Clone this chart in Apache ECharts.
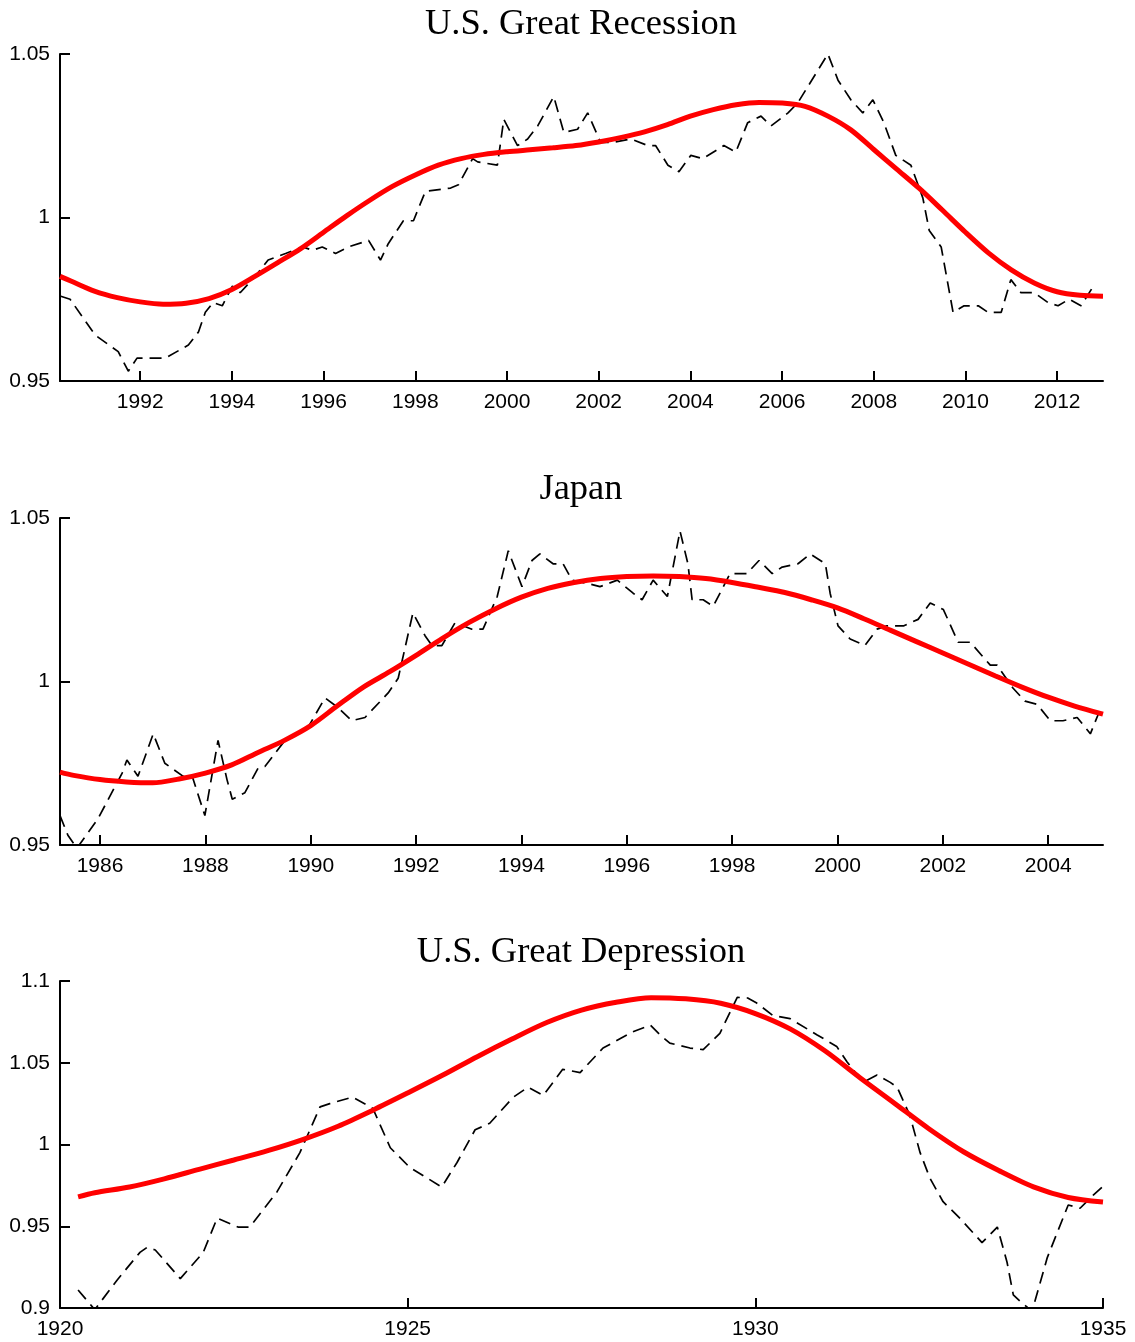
<!DOCTYPE html>
<html>
<head>
<meta charset="utf-8">
<script src="https://cdn.jsdelivr.net/npm/echarts@6/dist/echarts.min.js"></script>
<style>
  html, body { margin: 0; padding: 0; background: #fff; }
  #chart { width: 1135px; height: 1342px; }
</style>
</head>
<body>
<div id="chart"></div>
<script>

const titles = ['U.S. Great Recession', 'Japan', 'U.S. Great Depression'];

// [year, value]
const recessionActual = [
  [1990.25, 0.976], [1990.47, 0.975], [1991.02, 0.964], [1991.52, 0.959], [1991.74, 0.953],
  [1991.93, 0.957], [1992.26, 0.957], [1992.55, 0.957], [1993.05, 0.961], [1993.27, 0.965],
  [1993.42, 0.971], [1993.59, 0.974], [1993.79, 0.973], [1994.01, 0.979], [1994.18, 0.977],
  [1994.51, 0.982], [1994.79, 0.987], [1995.17, 0.989], [1995.54, 0.991], [1995.76, 0.990],
  [1995.97, 0.991], [1996.26, 0.989], [1996.54, 0.991], [1996.98, 0.993], [1997.24, 0.987],
  [1997.41, 0.992], [1997.74, 0.999], [1997.96, 0.999], [1998.22, 1.008], [1998.77, 1.009],
  [1998.94, 1.010], [1999.25, 1.018], [1999.36, 1.017], [1999.79, 1.016], [1999.93, 1.030],
  [2000.23, 1.022], [2000.45, 1.024], [2000.67, 1.028], [2001.02, 1.037], [2001.24, 1.026],
  [2001.54, 1.027], [2001.76, 1.032], [2002.04, 1.023], [2002.33, 1.023], [2002.70, 1.024],
  [2003.07, 1.022], [2003.24, 1.022], [2003.51, 1.016], [2003.75, 1.014], [2004.01, 1.019],
  [2004.27, 1.018], [2004.73, 1.022], [2004.99, 1.020], [2005.25, 1.029], [2005.54, 1.031],
  [2005.76, 1.028], [2006.13, 1.032], [2006.34, 1.035], [2007.00, 1.050], [2007.22, 1.042],
  [2007.50, 1.036], [2007.76, 1.032], [2007.98, 1.036], [2008.22, 1.029], [2008.48, 1.019],
  [2008.81, 1.016], [2009.07, 1.006], [2009.21, 0.996], [2009.47, 0.991], [2009.73, 0.971],
  [2009.97, 0.973], [2010.28, 0.973], [2010.49, 0.971], [2010.78, 0.971], [2010.99, 0.981],
  [2011.21, 0.977], [2011.50, 0.977], [2011.80, 0.974], [2012.02, 0.973], [2012.26, 0.975],
  [2012.52, 0.973], [2012.79, 0.979]
];

const recessionTrend = [
  [1990.25, 0.982], [1990.5, 0.9805], [1991, 0.9775], [1991.5, 0.9755], [1992, 0.9742],
  [1992.5, 0.9735], [1993, 0.9738], [1993.5, 0.9752], [1994, 0.978], [1994.5, 0.982],
  [1995, 0.9862], [1995.5, 0.9905], [1996, 0.9955], [1996.5, 1.0005], [1997, 1.0052],
  [1997.5, 1.0095], [1998, 1.013], [1998.5, 1.016], [1999, 1.018], [1999.5, 1.0193],
  [2000, 1.0201], [2000.5, 1.0207], [2001, 1.0213], [2001.5, 1.022], [2002, 1.0231],
  [2002.5, 1.0245], [2003, 1.0262], [2003.5, 1.0284], [2004, 1.031], [2004.5, 1.033],
  [2005, 1.0345], [2005.5, 1.0352], [2006, 1.035], [2006.5, 1.034], [2007, 1.031],
  [2007.5, 1.0268], [2008, 1.0208], [2008.5, 1.0148], [2009, 1.0088], [2009.5, 1.0022],
  [2010, 0.9955], [2010.5, 0.9892], [2011, 0.984], [2011.5, 0.98], [2012, 0.9773],
  [2012.5, 0.9762], [2013, 0.9759]
];

const japanActual = [
  [1985.24, 0.959], [1985.39, 0.953], [1985.56, 0.949], [1985.96, 0.958], [1986.42, 0.972],
  [1986.51, 0.976], [1986.72, 0.971], [1987.01, 0.984], [1987.23, 0.975], [1987.58, 0.971],
  [1987.75, 0.971], [1987.99, 0.959], [1988.24, 0.982], [1988.41, 0.970], [1988.51, 0.964],
  [1988.75, 0.966], [1989.00, 0.9735], [1989.13, 0.974], [1989.51, 0.982], [1989.95, 0.986],
  [1990.27, 0.995], [1990.52, 0.992], [1990.78, 0.988], [1991.03, 0.989], [1991.47, 0.9965],
  [1991.66, 1.001], [1991.94, 1.021], [1992.17, 1.014], [1992.30, 1.011], [1992.49, 1.011],
  [1992.74, 1.018], [1993.06, 1.016], [1993.27, 1.016], [1993.54, 1.026], [1993.75, 1.040],
  [1994.01, 1.029], [1994.20, 1.037], [1994.35, 1.039], [1994.60, 1.036], [1994.79, 1.036],
  [1994.96, 1.031], [1995.25, 1.030], [1995.49, 1.029], [1995.82, 1.031], [1996.12, 1.027],
  [1996.29, 1.025], [1996.50, 1.031], [1996.77, 1.026], [1997.01, 1.046], [1997.16, 1.036],
  [1997.24, 1.025], [1997.45, 1.025], [1997.64, 1.023], [1997.96, 1.033], [1998.28, 1.033],
  [1998.51, 1.037], [1998.76, 1.033], [1998.95, 1.035], [1999.25, 1.036], [1999.48, 1.039],
  [1999.77, 1.036], [1999.86, 1.027], [2000.01, 1.017], [2000.24, 1.013], [2000.52, 1.011],
  [2000.75, 1.016], [2000.94, 1.017], [2001.25, 1.017], [2001.53, 1.019], [2001.76, 1.024],
  [2002.01, 1.022], [2002.29, 1.012], [2002.52, 1.012], [2002.90, 1.005], [2003.03, 1.005],
  [2003.33, 0.998], [2003.56, 0.994], [2003.79, 0.993], [2004.04, 0.988], [2004.28, 0.988],
  [2004.55, 0.989], [2004.80, 0.984], [2004.95, 0.990]
];

const japanTrend = [
  [1985.24, 0.9723], [1985.5, 0.9713], [1986, 0.970], [1986.5, 0.9693], [1987, 0.969],
  [1987.5, 0.9702], [1988, 0.972], [1988.5, 0.9745], [1989, 0.9783], [1989.5, 0.982],
  [1990, 0.9865], [1990.5, 0.9925], [1991, 0.9983], [1991.5, 1.003], [1992, 1.008],
  [1992.5, 1.0132], [1993, 1.018], [1993.5, 1.0222], [1994, 1.0258], [1994.5, 1.0285],
  [1995, 1.0303], [1995.5, 1.0315], [1996, 1.0321], [1996.5, 1.0323], [1997, 1.0321],
  [1997.5, 1.0315], [1998, 1.0303], [1998.5, 1.0288], [1999, 1.0272], [1999.5, 1.025],
  [2000, 1.0225], [2000.5, 1.0192], [2001, 1.0157], [2001.5, 1.0122], [2002, 1.0087],
  [2002.5, 1.0052], [2003, 1.0017], [2003.5, 0.9983], [2004, 0.9952], [2004.5, 0.9925],
  [2005.04, 0.990]
];

const depressionActual = [
  [1920.26, 0.911], [1920.50, 0.899], [1920.82, 0.917], [1921.15, 0.934], [1921.25, 0.937],
  [1921.37, 0.9355], [1921.73, 0.918], [1922.06, 0.934], [1922.26, 0.955], [1922.56, 0.9495],
  [1922.73, 0.9495], [1923.12, 0.971], [1923.45, 0.995], [1923.74, 1.023], [1923.88, 1.025],
  [1924.21, 1.029], [1924.50, 1.022], [1924.75, 0.998], [1925.03, 0.986], [1925.28, 0.9795],
  [1925.49, 0.974], [1925.71, 0.989], [1925.97, 1.009], [1926.18, 1.013], [1926.52, 1.029],
  [1926.73, 1.035], [1926.95, 1.030], [1927.23, 1.046], [1927.48, 1.044], [1927.81, 1.059],
  [1928.24, 1.069], [1928.49, 1.073], [1928.63, 1.067], [1928.77, 1.062], [1929.06, 1.059],
  [1929.25, 1.058], [1929.49, 1.068], [1929.74, 1.090], [1929.89, 1.0896], [1930.02, 1.0865],
  [1930.25, 1.079], [1930.50, 1.077], [1930.89, 1.067], [1931.17, 1.060], [1931.32, 1.0505],
  [1931.55, 1.038], [1931.75, 1.0425], [1931.94, 1.038], [1932.04, 1.035], [1932.22, 1.018],
  [1932.37, 0.995], [1932.51, 0.9795], [1932.70, 0.965], [1932.94, 0.955], [1933.26, 0.940],
  [1933.48, 0.9495], [1933.62, 0.928], [1933.71, 0.908], [1933.81, 0.904], [1933.98, 0.898],
  [1934.20, 0.931], [1934.50, 0.963], [1934.67, 0.961], [1934.86, 0.969], [1934.99, 0.974]
];

const depressionTrend = [
  [1920.26, 0.968], [1920.5, 0.9705], [1921, 0.974], [1921.5, 0.979], [1922, 0.9848],
  [1922.5, 0.9905], [1923, 0.9964], [1923.5, 1.0032], [1924, 1.0112], [1924.5, 1.021],
  [1925, 1.0315], [1925.5, 1.0423], [1926, 1.0537], [1926.5, 1.0645], [1927, 1.0746],
  [1927.5, 1.0822], [1928, 1.087], [1928.5, 1.0898], [1929, 1.0891], [1929.5, 1.0864],
  [1930, 1.0801], [1930.5, 1.0707], [1931, 1.0573], [1931.5, 1.041], [1932, 1.0253],
  [1932.5, 1.0095], [1933, 0.9954], [1933.5, 0.9841], [1934, 0.9741], [1934.5, 0.9676],
  [1935, 0.9648]
];

const recessionXTicks = [1992, 1994, 1996, 1998, 2000, 2002, 2004, 2006, 2008, 2010, 2012];
const japanXTicks = [1986, 1988, 1990, 1992, 1994, 1996, 1998, 2000, 2002, 2004];
const depressionXTicks = [1920, 1925, 1930, 1935];
const narrowYTicks = [0.95, 1, 1.05];
const wideYTicks = [0.9, 0.95, 1, 1.05, 1.1];

const panels = [
  { top: 54, xMin: 1990.25, xMax: 2013, xTicks: recessionXTicks, yMin: 0.95, yMax: 1.05, yTicks: narrowYTicks, actual: recessionActual, trend: recessionTrend, titleTop: 6 },
  { top: 518, xMin: 1985.24, xMax: 2005.04, xTicks: japanXTicks, yMin: 0.95, yMax: 1.05, yTicks: narrowYTicks, actual: japanActual, trend: japanTrend, titleTop: 471 },
  { top: 981, xMin: 1920, xMax: 1935, xTicks: depressionXTicks, yMin: 0.9, yMax: 1.1, yTicks: wideYTicks, actual: depressionActual, trend: depressionTrend, titleTop: 934 }
];

const axisFont = { fontFamily: 'Liberation Sans, Arial, sans-serif', fontSize: 21, color: '#000' };
const axisLine = { show: true, lineStyle: { color: '#000', width: 2 } };

const chart = echarts.init(document.getElementById('chart'));

chart.setOption({
  animation: false,
  backgroundColor: '#fff',
  title: panels.map(function (p, i) {
    return {
      text: titles[i],
      left: 581,
      top: p.titleTop,
      textAlign: 'center',
      padding: 0,
      textStyle: { fontFamily: 'Liberation Serif, serif', fontWeight: 'normal', fontSize: 36.5, color: '#000' }
    };
  }),
  grid: panels.map(function (p) {
    return { left: 60, right: 32, top: p.top, height: 327, outerBoundsMode: 'none' };
  }),
  xAxis: panels.map(function (p, i) {
    return {
      type: 'value', gridIndex: i, min: p.xMin, max: p.xMax,
      axisLine: axisLine,
      splitLine: { show: false },
      axisTick: { inside: true, length: 10, customValues: p.xTicks, lineStyle: { color: '#000', width: 2 } },
      axisLabel: Object.assign({ margin: 11, customValues: p.xTicks, formatter: function (v) { return String(Math.round(v)); } }, axisFont)
    };
  }),
  yAxis: panels.map(function (p, i) {
    return {
      type: 'value', gridIndex: i, min: p.yMin, max: p.yMax,
      axisLine: axisLine,
      splitLine: { show: false },
      axisTick: { inside: true, length: 10, customValues: p.yTicks, lineStyle: { color: '#000', width: 2 } },
      axisLabel: Object.assign({ margin: 10, customValues: p.yTicks, formatter: function (v) { return String(+v.toFixed(2)); } }, axisFont)
    };
  }),
  series: panels.reduce(function (acc, p, i) {
    acc.push({
      type: 'line', xAxisIndex: i, yAxisIndex: i, data: p.actual,
      symbol: 'none', clip: true, z: 2,
      lineStyle: { color: '#000', width: 1.7, type: [12, 7] }
    });
    acc.push({
      type: 'line', xAxisIndex: i, yAxisIndex: i, data: p.trend,
      symbol: 'none', smooth: 0.3, clip: true, z: 3,
      lineStyle: { color: '#ff0000', width: 5 }
    });
    return acc;
  }, [])
});

</script>
</body>
</html>
